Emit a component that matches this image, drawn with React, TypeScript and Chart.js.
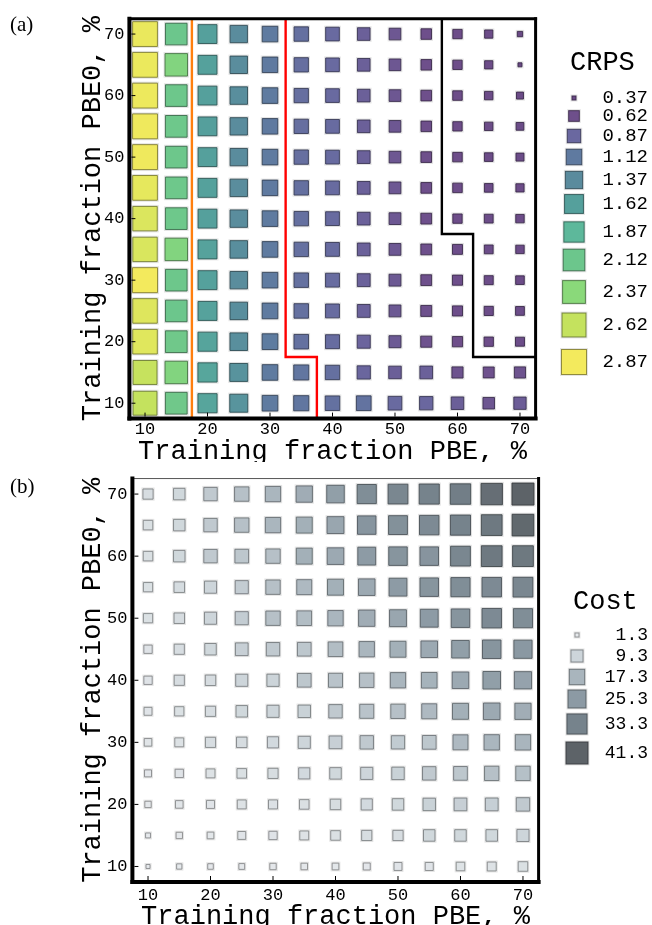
import { useEffect, useRef } from "react";
import { Chart, registerables } from "chart.js";

Chart.register(...registerables);

// ---------------- data ----------------
const pbeFractions = [10, 15, 20, 25, 30, 35, 40, 45, 50, 55, 60, 65, 70];
const pbe0Fractions = [10, 15, 20, 25, 30, 35, 40, 45, 50, 55, 60, 65, 70];
const axisTickValues = [10, 20, 30, 40, 50, 60, 70];
const axisMin = 7.5;
const axisMax = 72.5;

// CRPS, one row per PBE0 fraction (10 .. 70), columns = PBE fraction (10 .. 70)
const crpsByPbe0: number[][] = [
  [2.62, 2.15, 1.67, 1.48, 1.14, 1.07, 1.0, 1.02, 0.9, 0.86, 0.78, 0.69, 0.76],
  [2.63, 2.3, 1.68, 1.47, 1.13, 1.06, 0.98, 0.85, 0.78, 0.8, 0.66, 0.64, 0.66],
  [2.77, 2.15, 1.66, 1.42, 1.15, 1.0, 0.93, 0.83, 0.73, 0.65, 0.59, 0.53, 0.51],
  [2.76, 2.12, 1.64, 1.4, 1.14, 0.99, 0.92, 0.81, 0.72, 0.64, 0.58, 0.52, 0.5],
  [2.87, 2.13, 1.63, 1.39, 1.13, 0.99, 0.92, 0.81, 0.72, 0.63, 0.58, 0.51, 0.49],
  [2.73, 2.3, 1.64, 1.4, 1.13, 0.98, 0.92, 0.8, 0.71, 0.63, 0.57, 0.5, 0.48],
  [2.74, 2.14, 1.62, 1.39, 1.13, 0.98, 0.91, 0.8, 0.71, 0.63, 0.53, 0.5, 0.48],
  [2.8, 2.14, 1.63, 1.39, 1.12, 0.98, 0.91, 0.8, 0.71, 0.62, 0.54, 0.49, 0.47],
  [2.85, 2.13, 1.62, 1.38, 1.13, 0.97, 0.91, 0.8, 0.7, 0.62, 0.54, 0.49, 0.46],
  [2.85, 2.14, 1.61, 1.38, 1.12, 0.97, 0.91, 0.79, 0.7, 0.61, 0.53, 0.48, 0.45],
  [2.84, 2.13, 1.62, 1.4, 1.13, 0.97, 0.9, 0.79, 0.7, 0.62, 0.54, 0.48, 0.42],
  [2.83, 2.3, 1.63, 1.39, 1.12, 0.97, 0.9, 0.79, 0.7, 0.61, 0.53, 0.47, 0.37],
  [2.82, 2.12, 1.62, 1.38, 1.13, 0.98, 0.9, 0.79, 0.7, 0.61, 0.53, 0.47, 0.38],
];

// Cost, one row per PBE0 fraction (10 .. 70), columns = PBE fraction (10 .. 70)
const costByPbe0: number[][] = [
  [1.3, 1.5, 1.6, 1.7, 2.0, 2.1, 2.2, 2.4, 3.2, 3.3, 3.9, 4.3, 5.1],
  [1.4, 2.0, 2.2, 3.2, 3.6, 4.3, 5.1, 6.0, 6.1, 8.2, 8.2, 8.3, 9.4],
  [2.0, 2.9, 3.3, 4.3, 4.4, 5.1, 6.5, 7.6, 8.2, 10.1, 10.7, 10.8, 12.2],
  [2.4, 3.6, 4.3, 5.1, 6.0, 7.6, 8.2, 9.4, 10.1, 12.2, 12.9, 14.5, 14.6],
  [2.9, 4.3, 6.0, 6.5, 7.6, 9.4, 10.7, 12.2, 11.9, 12.9, 16.2, 17.1, 17.2],
  [3.2, 4.7, 6.0, 8.2, 9.4, 10.1, 12.2, 13.7, 14.5, 16.2, 18.9, 20.8, 19.6],
  [3.6, 6.0, 6.5, 9.4, 9.6, 12.9, 13.7, 14.5, 17.1, 18.0, 20.8, 23.9, 22.9],
  [3.6, 6.0, 8.2, 10.7, 12.2, 12.9, 15.3, 17.1, 18.9, 20.8, 23.9, 27.2, 26.1],
  [4.7, 6.5, 9.4, 11.5, 14.5, 15.3, 17.1, 19.9, 21.8, 25.0, 27.2, 30.8, 29.6],
  [4.7, 6.6, 9.4, 11.5, 14.5, 16.2, 18.9, 20.8, 25.0, 27.2, 29.6, 30.8, 32.0],
  [5.1, 8.2, 12.2, 12.9, 14.5, 18.9, 20.8, 25.0, 27.2, 27.3, 32.0, 35.8, 35.9],
  [5.1, 8.2, 12.2, 14.5, 17.1, 18.9, 21.8, 27.0, 28.5, 30.8, 33.3, 35.8, 39.9],
  [6.0, 8.2, 12.2, 14.5, 17.1, 19.9, 23.9, 29.6, 32.0, 33.3, 34.5, 38.5, 41.3],
];

const crpsLegendValues = [0.37, 0.62, 0.87, 1.12, 1.37, 1.62, 1.87, 2.12, 2.37, 2.62, 2.87];
const crpsLegendLabels = ["0.37", "0.62", "0.87", "1.12", "1.37", "1.62", "1.87", "2.12", "2.37", "2.62", "2.87"];
const costLegendValues = [1.3, 9.3, 17.3, 25.3, 33.3, 41.3];
const costLegendLabels = ["1.3", "9.3", "17.3", "25.3", "33.3", "41.3"];

const orangeBoundary = [
  { x: 17.5, y: 72.5 },
  { x: 17.5, y: 7.5 },
];
const redBoundary = [
  { x: 32.5, y: 72.5 },
  { x: 32.5, y: 17.5 },
  { x: 37.5, y: 17.5 },
  { x: 37.5, y: 7.5 },
];
const blackBoundary = [
  { x: 57.5, y: 72.5 },
  { x: 57.5, y: 37.5 },
  { x: 62.5, y: 37.5 },
  { x: 62.5, y: 17.5 },
  { x: 72.5, y: 17.5 },
];

// ---------------- styles ----------------
const MONO = "'Liberation Mono', 'DejaVu Sans Mono', monospace";
const SERIF = "'Liberation Serif', 'DejaVu Serif', serif";
const W = 652;

const crpsColorStops = [
  "#6a4a86", "#6e4f8b", "#6a68a0", "#5f7aa0", "#5a8b9d", "#55a09c",
  "#5db89b", "#6cc68c", "#8ad97a", "#c4e25e", "#f3ea5d",
];
const costColorStops = ["#e6e9ec", "#cdd5da", "#a9b5bd", "#8c9aa4", "#76838c", "#5d6368"];

function hexToRgb(h: string): number[] {
  const n = parseInt(h.slice(1), 16);
  return [(n >> 16) & 255, (n >> 8) & 255, n & 255];
}

function interpColor(v: number, stopsV: number[], stopsC: string[]): number[] {
  if (v <= stopsV[0]) return hexToRgb(stopsC[0]);
  for (let i = 1; i < stopsV.length; i++) {
    if (v <= stopsV[i]) {
      const t = (v - stopsV[i - 1]) / (stopsV[i] - stopsV[i - 1]);
      const a = hexToRgb(stopsC[i - 1]);
      const b = hexToRgb(stopsC[i]);
      return a.map((c, k) => Math.round(c + (b[k] - c) * t));
    }
  }
  return hexToRgb(stopsC[stopsC.length - 1]);
}

const rgb = (c: number[]) => `rgb(${c[0]},${c[1]},${c[2]})`;
const darker = (c: number[], f: number) => `rgba(${Math.round(c[0] * f)},${Math.round(c[1] * f)},${Math.round(c[2] * f)},0.9)`;

const crpsSide = (v: number) => 4 + 21 * Math.sqrt(Math.max(0, (v - 0.37) / 2.5));
const costSide = (v: number) => 4 + 18 * Math.sqrt(Math.max(0, (v - 1.3) / 40));

interface PanelSpec {
  key: string;
  height: number;
  plotLeft: number;
  plotTop: number;
  plotRight: number;
  plotBottom: number;
  xTickPad: number;
  xTitleBaseline: number;
  values: number[][];
  side: (v: number) => number;
  fill: (v: number) => number[];
  borderFactor: number;
  legendTitle: string;
  legendTitleX: number;
  legendTitleBaseline: number;
  legendValues: number[];
  legendLabels: string[];
  legendY: number[];
  legendCx: number;
  legendTextRight: number;
  legendFont: number;
  panelLabel: string;
  frame: { left: number; bottom: number; right: number; top: number; topColor: string };
  boundaries: { pts: { x: number; y: number }[]; color: string }[];
}

const panelA: PanelSpec = {
  key: "a",
  height: 462,
  plotLeft: 129.4,
  plotTop: 12.4,
  plotRight: 535.6,
  plotBottom: 418.6,
  xTickPad: 1,
  xTitleBaseline: 459,
  values: crpsByPbe0,
  side: crpsSide,
  fill: (v) => interpColor(v, crpsLegendValues, crpsColorStops),
  borderFactor: 0.55,
  legendTitle: "CRPS",
  legendTitleX: 570,
  legendTitleBaseline: 70,
  legendValues: crpsLegendValues,
  legendLabels: crpsLegendLabels,
  legendY: [98, 116, 136, 157, 180, 204, 232, 260, 292, 325, 362],
  legendCx: 574,
  legendTextRight: 648,
  legendFont: 19,
  panelLabel: "(a)",
  frame: { left: 4, bottom: 4, right: 3, top: 3, topColor: "#000" },
  boundaries: [
    { pts: orangeBoundary, color: "#ff7f0e" },
    { pts: redBoundary, color: "#ff0000" },
    { pts: blackBoundary, color: "#000000" },
  ],
};

const panelB: PanelSpec = {
  key: "b",
  height: 463,
  plotLeft: 132.4,
  plotTop: 13.9,
  plotRight: 538.6,
  plotBottom: 420,
  xTickPad: 3,
  xTitleBaseline: 462,
  values: costByPbe0,
  side: costSide,
  fill: (v) => interpColor(v, costLegendValues, costColorStops),
  borderFactor: 0.6,
  legendTitle: "Cost",
  legendTitleX: 573,
  legendTitleBaseline: 147,
  legendValues: costLegendValues,
  legendLabels: costLegendLabels,
  legendY: [173, 194, 215, 237, 262, 291],
  legendCx: 577,
  legendTextRight: 648,
  legendFont: 18,
  panelLabel: "(b)",
  frame: { left: 4, bottom: 4, right: 3, top: 1, topColor: "#555" },
  boundaries: [],
};

function buildConfig(spec: PanelSpec): any {
  const points: { x: number; y: number; v: number }[] = [];
  spec.values.forEach((row, i) =>
    row.forEach((v, j) => points.push({ x: pbeFractions[j], y: pbe0Fractions[i], v }))
  );

  const boundaryDatasets = spec.boundaries.map((b) => ({
    data: b.pts,
    showLine: true,
    borderColor: b.color,
    backgroundColor: b.color,
    borderWidth: 2.4,
    pointRadius: 0,
    fill: false,
    order: 0,
  }));

  const squares = {
    data: points,
    order: 1,
    pointStyle: "rect",
    pointRadius: (c: any) => (c.raw ? spec.side(c.raw.v) / Math.SQRT2 : 3),
    pointHoverRadius: (c: any) => (c.raw ? spec.side(c.raw.v) / Math.SQRT2 : 3),
    backgroundColor: (c: any) => (c.raw ? rgb(spec.fill(c.raw.v)) : "#888"),
    borderColor: (c: any) => (c.raw ? darker(spec.fill(c.raw.v), spec.borderFactor) : "#444"),
    borderWidth: 1,
  };
  const squaresIndex = boundaryDatasets.length;

  const framePlugin = {
    id: "frame" + spec.key,
    beforeDatasetsDraw(chart: any) {
      // soft light halo around every square, as in the original rendering
      const { ctx } = chart;
      const meta = chart.getDatasetMeta(squaresIndex);
      ctx.save();
      ctx.fillStyle = "rgba(120,120,120,0.2)";
      meta.data.forEach((el: any, i: number) => {
        const s = spec.side(points[i].v) + 3;
        ctx.fillRect(el.x - s / 2, el.y - s / 2, s, s);
      });
      ctx.restore();
    },
    afterDatasetsDraw(chart: any) {
      const { ctx, chartArea: a } = chart;
      const f = spec.frame;
      ctx.save();
      ctx.lineCap = "square";
      const line = (x1: number, y1: number, x2: number, y2: number, w: number, c: string) => {
        ctx.beginPath();
        ctx.strokeStyle = c;
        ctx.lineWidth = w;
        ctx.moveTo(x1, y1);
        ctx.lineTo(x2, y2);
        ctx.stroke();
      };
      line(a.left, a.top, a.right, a.top, f.top, f.topColor);
      line(a.right, a.top, a.right, a.bottom, f.right, "#000");
      line(a.left, a.bottom, a.right, a.bottom, f.bottom, "#000");
      line(a.left, a.top, a.left, a.bottom, f.left, "#000");
      ctx.lineCap = "butt";
      const xs = chart.scales.x;
      const ys = chart.scales.y;
      axisTickValues.forEach((t) => {
        const px = xs.getPixelForValue(t);
        line(px, a.bottom - 2, px, a.bottom - 6, 1, "#000");
        const py = ys.getPixelForValue(t);
        line(a.left + 2, py, a.left + 6, py, 1, "#000");
      });
      ctx.restore();
    },
    afterDraw(chart: any) {
      const { ctx, chartArea: a } = chart;
      ctx.save();
      ctx.fillStyle = "#000";
      ctx.font = `27px ${MONO}`;
      ctx.textAlign = "center";
      ctx.textBaseline = "alphabetic";
      ctx.fillText("Training fraction PBE, %", (a.left + a.right) / 2, spec.xTitleBaseline);
      ctx.save();
      ctx.translate(100, (a.top + a.bottom) / 2);
      ctx.rotate(-Math.PI / 2);
      ctx.fillText("Training fraction PBE0, %", 0, 0);
      ctx.restore();
      ctx.font = `21px ${SERIF}`;
      ctx.textAlign = "left";
      ctx.fillText(spec.panelLabel, 10, 31);
      ctx.font = `27px ${MONO}`;
      ctx.fillText(spec.legendTitle, spec.legendTitleX, spec.legendTitleBaseline);
      ctx.font = `${spec.legendFont}px ${MONO}`;
      ctx.textAlign = "right";
      ctx.textBaseline = "middle";
      spec.legendValues.forEach((v, i) => {
        const s = spec.side(v);
        const cy = spec.legendY[i];
        const col = spec.fill(v);
        ctx.fillStyle = "rgba(120,120,120,0.2)";
        ctx.fillRect(spec.legendCx - (s + 3) / 2, cy - (s + 3) / 2, s + 3, s + 3);
        ctx.fillStyle = rgb(col);
        ctx.fillRect(spec.legendCx - s / 2, cy - s / 2, s, s);
        ctx.strokeStyle = darker(col, spec.borderFactor);
        ctx.lineWidth = 1;
        ctx.strokeRect(spec.legendCx - s / 2, cy - s / 2, s, s);
        ctx.fillStyle = "#000";
        ctx.fillText(spec.legendLabels[i], spec.legendTextRight, cy);
      });
      ctx.restore();
    },
  };

  const tickFont = { family: MONO, size: 17 };

  return {
    type: "scatter",
    data: { datasets: [...boundaryDatasets, squares] },
    options: {
      animation: false,
      responsive: false,
      maintainAspectRatio: false,
      devicePixelRatio: 1,
      events: [],
      layout: {
        padding: { left: 0, top: spec.plotTop, right: W - spec.plotRight, bottom: 0 },
      },
      plugins: { legend: { display: false }, tooltip: { enabled: false }, title: { display: false } },
      scales: {
        x: {
          type: "linear",
          min: axisMin,
          max: axisMax,
          grid: { display: false, drawTicks: false },
          border: { display: false },
          ticks: { font: tickFont, color: "#000", padding: spec.xTickPad, maxRotation: 0, autoSkip: false },
          afterBuildTicks: (s: any) => {
            s.ticks = axisTickValues.map((v) => ({ value: v }));
          },
          afterFit: (s: any) => {
            s.height = spec.height - spec.plotBottom;
          },
        },
        y: {
          type: "linear",
          min: axisMin,
          max: axisMax,
          grid: { display: false, drawTicks: false },
          border: { display: false },
          ticks: { font: tickFont, color: "#000", padding: 5, autoSkip: false },
          afterBuildTicks: (s: any) => {
            s.ticks = axisTickValues.map((v) => ({ value: v }));
          },
          afterFit: (s: any) => {
            s.width = spec.plotLeft;
          },
        },
      },
    },
    plugins: [framePlugin],
  };
}

function Panel({ spec }: { spec: PanelSpec }) {
  const ref = useRef<HTMLCanvasElement>(null);
  useEffect(() => {
    if (!ref.current) return;
    const chart = new Chart(ref.current, buildConfig(spec));
    return () => chart.destroy();
  }, [spec]);
  return (
    <canvas
      ref={ref}
      width={W}
      height={spec.height}
      style={{ display: "block", width: W, height: spec.height }}
    />
  );
}

export default function App() {
  return (
    <div style={{ position: "absolute", left: 0, top: 0, width: W, height: 925, background: "#fff", overflow: "hidden" }}>
      <Panel spec={panelA} />
      <Panel spec={panelB} />
    </div>
  );
}
